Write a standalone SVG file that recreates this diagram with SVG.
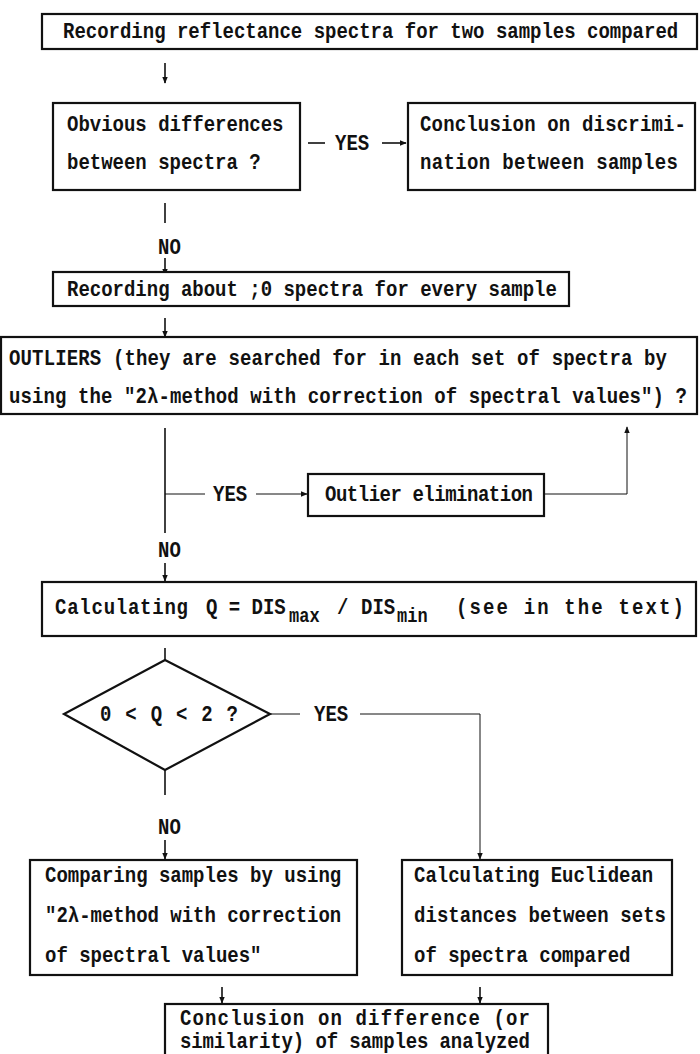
<svg xmlns="http://www.w3.org/2000/svg" width="700" height="1054" viewBox="0 0 700 1054">
<style>
.t{font-family:"Liberation Mono","DejaVu Sans Mono",monospace;font-weight:bold;font-size:19px;fill:#111}
.s{font-family:"Liberation Mono","DejaVu Sans Mono",monospace;font-weight:bold;font-size:17px;fill:#111}
.b{fill:#fff;stroke:#111;stroke-width:2.2}
.c{fill:none;stroke:#111;stroke-width:1.6}
.ct{fill:none;stroke:#111;stroke-width:1}
</style>
<defs>
<marker id="ah" viewBox="0 0 10 10" refX="9" refY="5" markerWidth="7" markerHeight="7" markerUnits="userSpaceOnUse" orient="auto">
<path d="M0,1 L10,5 L0,9 Z" fill="#111"/>
</marker>
</defs>
<rect width="700" height="1054" fill="#fff"/>

<g id="connectors">
<line class="c" x1="165" y1="63" x2="165" y2="83" marker-end="url(#ah)"/>
<line class="c" x1="308" y1="143" x2="325" y2="143"/>
<text class="t" x="335" y="150" transform="matrix(1,0,0,1.2,0,-30)">YES</text>
<line class="c" x1="382" y1="143" x2="406" y2="143" marker-end="url(#ah)"/>
<line class="c" x1="165" y1="203" x2="165" y2="223"/>
<text class="t" x="158" y="254" transform="matrix(1,0,0,1.2,0,-50.8)">NO</text>
<line class="c" x1="165" y1="258" x2="165" y2="275" marker-end="url(#ah)"/>
<line class="c" x1="165" y1="318" x2="165" y2="337" marker-end="url(#ah)"/>
<line class="c" x1="165" y1="428" x2="165" y2="533"/>
<line class="ct" x1="165" y1="494" x2="205" y2="494"/>
<text class="t" x="213" y="501" transform="matrix(1,0,0,1.2,0,-100.2)">YES</text>
<line class="ct" x1="256" y1="494" x2="307" y2="494" marker-end="url(#ah)"/>
<polyline class="ct" points="545,494 627,494 627,427" marker-end="url(#ah)"/>
<text class="t" x="158" y="557" transform="matrix(1,0,0,1.2,0,-111.4)">NO</text>
<line class="c" x1="165" y1="563" x2="165" y2="581" marker-end="url(#ah)"/>
<line class="c" x1="165" y1="648" x2="165" y2="661"/>
<line class="ct" x1="270" y1="714" x2="300" y2="714"/>
<text class="t" x="314" y="721" transform="matrix(1,0,0,1.2,0,-144.2)">YES</text>
<polyline class="ct" points="360,714 480,714 480,859" marker-end="url(#ah)"/>
<line class="c" x1="165" y1="770" x2="165" y2="795"/>
<text class="t" x="158" y="834" transform="matrix(1,0,0,1.2,0,-166.8)">NO</text>
<line class="c" x1="165" y1="840" x2="165" y2="859" marker-end="url(#ah)"/>
<line class="c" x1="222" y1="987" x2="222" y2="1003" marker-end="url(#ah)"/>
<line class="c" x1="480" y1="987" x2="480" y2="1003" marker-end="url(#ah)"/>
</g>

<g id="n1">
<rect class="b" x="42" y="14" width="655" height="35"/>
<text class="t" x="63" y="38" transform="matrix(1,0,0,1.2,0,-7.6)">Recording reflectance spectra for two samples compared</text>
</g>

<g id="n2">
<rect class="b" x="53" y="103" width="247" height="87"/>
<text class="t" x="67" y="131" transform="matrix(1,0,0,1.2,0,-26.2)">Obvious differences</text>
<text class="t" x="67" y="169" transform="matrix(1,0,0,1.2,0,-33.8)">between spectra ?</text>
</g>

<g id="n3">
<rect class="b" x="408" y="103" width="287" height="87"/>
<text class="t" x="420" y="131" textLength="266" transform="matrix(1,0,0,1.2,0,-26.2)">Conclusion on discrimi-</text>
<text class="t" x="420" y="169" textLength="258" transform="matrix(1,0,0,1.2,0,-33.8)">nation between samples</text>
</g>

<g id="n4">
<rect class="b" x="53" y="272" width="516" height="34"/>
<text class="t" x="67" y="296" transform="matrix(1,0,0,1.2,0,-59.2)">Recording about ;0 spectra for every sample</text>
</g>

<g id="n5">
<rect class="b" x="1" y="337" width="696" height="77"/>
<text class="t" x="9" y="365" textLength="658" transform="matrix(1,0,0,1.2,0,-73)">OUTLIERS (they are searched for in each set of spectra by</text>
<text class="t" x="9" y="403" textLength="678" transform="matrix(1,0,0,1.2,0,-80.6)">using the "2λ-method with correction of spectral values") ?</text>
</g>

<g id="n6">
<rect class="b" x="308" y="474" width="236" height="42"/>
<text class="t" x="325" y="501" textLength="208" transform="matrix(1,0,0,1.2,0,-100.2)">Outlier elimination</text>
</g>

<g id="n7">
<rect class="b" x="42" y="582" width="654" height="54"/>
<text class="t" x="55" y="614" textLength="133" transform="matrix(1,0,0,1.2,0,-122.8)">Calculating</text>
<text class="t" x="206" y="614" transform="matrix(1,0,0,1.2,0,-122.8)">Q = DIS</text>
<text class="s" x="289" y="622" transform="matrix(1,0,0,1.2,0,-124.4)">max</text>
<text class="t" x="337" y="614" transform="matrix(1,0,0,1.2,0,-122.8)">/</text>
<text class="t" x="361" y="614" transform="matrix(1,0,0,1.2,0,-122.8)">DIS</text>
<text class="s" x="397" y="622" transform="matrix(1,0,0,1.2,0,-124.4)">min</text>
<text class="t" x="456" y="614" textLength="228" transform="matrix(1,0,0,1.2,0,-122.8)">(see in the text)</text>
</g>

<g id="n8">
<polygon class="b" points="165,660 270,714 165,770 64,714"/>
<text class="t" x="100" y="721" textLength="138" transform="matrix(1,0,0,1.2,0,-144.2)">0 &lt; Q &lt; 2 ?</text>
</g>

<g id="n9">
<rect class="b" x="30" y="860" width="327" height="115"/>
<text class="t" x="45" y="882" transform="matrix(1,0,0,1.2,0,-176.4)">Comparing samples by using</text>
<text class="t" x="45" y="922" transform="matrix(1,0,0,1.2,0,-184.4)">"2λ-method with correction</text>
<text class="t" x="45" y="962" transform="matrix(1,0,0,1.2,0,-192.4)">of spectral values"</text>
</g>

<g id="n10">
<rect class="b" x="402" y="860" width="270" height="115"/>
<text class="t" x="414" y="882" transform="matrix(1,0,0,1.2,0,-176.4)">Calculating Euclidean</text>
<text class="t" x="414" y="922" textLength="252" transform="matrix(1,0,0,1.2,0,-184.4)">distances between sets</text>
<text class="t" x="414" y="962" transform="matrix(1,0,0,1.2,0,-192.4)">of spectra compared</text>
</g>

<g id="n11">
<rect class="b" x="165" y="1004" width="383" height="70"/>
<text class="t" x="180" y="1025" textLength="350" transform="matrix(1,0,0,1.2,0,-205)">Conclusion  on  difference  (or</text>
<text class="t" x="180" y="1048" textLength="350" transform="matrix(1,0,0,1.2,0,-209.6)">similarity) of samples analyzed</text>
</g>
</svg>
